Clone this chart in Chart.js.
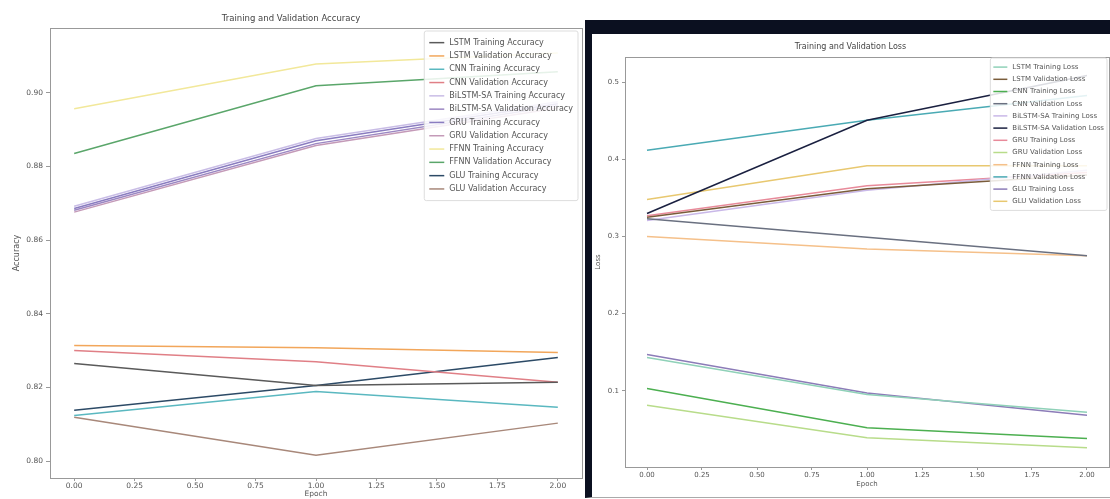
<!DOCTYPE html>
<html>
<head>
<meta charset="utf-8">
<script src="https://cdn.jsdelivr.net/npm/chart.js@4.4.1/dist/chart.umd.min.js"></script>
<style>
  html, body { margin: 0; padding: 0; background: #fff; }
  body { width: 1110px; height: 499px; position: relative; overflow: hidden; }
  #accCanvas { position: absolute; left: 0; top: 0; }
  #lossBox {
    position: absolute; left: 585px; top: 20px; width: 518px; height: 463px;
    border-top: 14px solid #0b1020; border-left: 7px solid #0b1020;
    border-bottom: 1px solid #aaa; background: #fff;
  }
  #lossCanvas { position: absolute; left: 0; top: 0; }
</style>
</head>
<body>
<canvas id="accCanvas" width="585" height="499"></canvas>
<div id="lossBox"><canvas id="lossCanvas" width="518" height="463"></canvas></div>
<script>
// epochs + tick labels
const epochs = [0, 1, 2];
const epochTicks = [0, 0.25, 0.5, 0.75, 1, 1.25, 1.5, 1.75, 2];
const accTicks = [0.80, 0.82, 0.84, 0.86, 0.88, 0.90];
const lossTicks = [0.1, 0.2, 0.3, 0.4, 0.5];

const models = ['LSTM', 'CNN', 'BiLSTM-SA', 'GRU', 'FFNN', 'GLU'];

// accuracy per model
const lstmTrainAcc = [0.8265, 0.8205, 0.8214];
const lstmValAcc = [0.8314, 0.8308, 0.8295];
const cnnTrainAcc = [0.8124, 0.8189, 0.8146];
const cnnValAcc = [0.8300, 0.8270, 0.8214];
const bilstmTrainAcc = [0.8692, 0.8876, 0.8976];
const bilstmValAcc = [0.8681, 0.8862, 0.8965];
const gruTrainAcc = [0.8686, 0.8870, 0.8970];
const gruValAcc = [0.8676, 0.8857, 0.8959];
const ffnnTrainAcc = [0.8957, 0.9078, 0.9108];
const ffnnValAcc = [0.8835, 0.9019, 0.9057];
const gluTrainAcc = [0.8138, 0.8205, 0.8281];
const gluValAcc = [0.8119, 0.8016, 0.8103];

// loss per model
const lstmTrainLoss = [0.143, 0.095, 0.072];
const lstmValLoss = [0.325, 0.362, 0.380];
const cnnTrainLoss = [0.103, 0.052, 0.038];
const cnnValLoss = [0.323, 0.299, 0.275];
const bilstmTrainLoss = [0.321, 0.360, 0.386];
const bilstmValLoss = [0.330, 0.451, 0.509];
const gruTrainLoss = [0.327, 0.366, 0.383];
const gruValLoss = [0.081, 0.039, 0.026];
const ffnnTrainLoss = [0.300, 0.284, 0.275];
const ffnnValLoss = [0.412, 0.451, 0.483];
const gluTrainLoss = [0.147, 0.097, 0.068];
const gluValLoss = [0.348, 0.392, 0.392];

const accSeries = [lstmTrainAcc, lstmValAcc, cnnTrainAcc, cnnValAcc, bilstmTrainAcc, bilstmValAcc,
                   gruTrainAcc, gruValAcc, ffnnTrainAcc, ffnnValAcc, gluTrainAcc, gluValAcc];
const lossSeries = [lstmTrainLoss, lstmValLoss, cnnTrainLoss, cnnValLoss, bilstmTrainLoss, bilstmValLoss,
                    gruTrainLoss, gruValLoss, ffnnTrainLoss, ffnnValLoss, gluTrainLoss, gluValLoss];

const accColors = ['#5a5a5a', '#f2a65a', '#5ab8c0', '#e07f86', '#c9bde6', '#9b86c2',
                   '#8a7cc0', '#c49ab8', '#f2e89a', '#5aa66a', '#2c4a66', '#a8887a'];
const lossColors = ['#8fd1b8', '#7a5c3a', '#4caf50', '#6a7080', '#c9b8e8', '#1a2040',
                    '#e88a9a', '#b8dc8a', '#f5c08a', '#4aaab4', '#8c7cb8', '#e8c870'];

const FONT = '"DejaVu Sans", sans-serif';

function buildSets(series, colors, kind) {
  let sets = [];
  models.forEach(function(m, i) {
    ['Training', 'Validation'].forEach(function(phase, j) {
      const k = i * 2 + j;
      sets.push({
        label: m + ' ' + phase + ' ' + kind,
        data: series[k].map(function(v, n) { return { x: epochs[n], y: v }; }),
        borderColor: colors[k],
        borderWidth: 1.5,
        pointRadius: 0,
        tension: 0,
        fill: false
      });
    });
  });
  return sets;
}

// frame around the plot area (matplotlib spines)
const frame = {
  id: 'frame',
  afterDatasetsDraw(chart) {
    const a = chart.chartArea, ctx = chart.ctx;
    ctx.save();
    ctx.strokeStyle = '#999';
    ctx.lineWidth = 1;
    ctx.strokeRect(Math.round(a.left) + 0.5, Math.round(a.top) + 0.5,
                   Math.round(a.right - a.left), Math.round(a.bottom - a.top));
    ctx.restore();
  }
};

// legend drawn inside the plot, top right
const insideLegend = {
  id: 'insideLegend',
  afterDraw(chart, args, o) {
    const ctx = chart.ctx, a = chart.chartArea;
    const sets = chart.data.datasets;
    ctx.save();
    ctx.font = o.size + 'px ' + FONT;
    const textW = Math.max.apply(null, sets.map(function(d) { return ctx.measureText(d.label).width; }));
    const w = o.pad * 2 + o.lineLen + o.gap + textW;
    const h = o.pad * 2 + sets.length * o.rowH;
    const x0 = a.right - o.marginRight - w;
    const y0 = a.top + o.marginTop;
    ctx.fillStyle = 'rgba(255,255,255,0.85)';
    ctx.strokeStyle = '#ddd';
    ctx.lineWidth = 1;
    ctx.beginPath();
    ctx.roundRect(x0, y0, w, h, 2);
    ctx.fill();
    ctx.stroke();
    ctx.textBaseline = 'middle';
    sets.forEach(function(d, i) {
      const y = y0 + o.pad + o.rowH * (i + 0.5);
      ctx.strokeStyle = d.borderColor;
      ctx.lineWidth = 1.5;
      ctx.beginPath();
      ctx.moveTo(x0 + o.pad, y);
      ctx.lineTo(x0 + o.pad + o.lineLen, y);
      ctx.stroke();
      ctx.fillStyle = '#555';
      ctx.fillText(d.label, x0 + o.pad + o.lineLen + o.gap, y);
    });
    ctx.restore();
  }
};

function tickMarks(len) {
  return { display: true, drawOnChartArea: false, drawTicks: true, tickLength: len, color: '#999' };
}

// accuracy chart
const accChart = new Chart(document.getElementById('accCanvas').getContext('2d'), {
  type: 'line',
  data: { datasets: buildSets(accSeries, accColors, 'Accuracy') },
  options: {
    responsive: false,
    animation: false,
    layout: { padding: { left: 0, right: 3, top: 0, bottom: 0 } },
    plugins: {
      legend: { display: false },
      tooltip: { enabled: false },
      title: {
        display: true, text: 'Training and Validation Accuracy', color: '#444',
        font: { family: FONT, size: 8.5, weight: 'normal' },
        padding: { top: 14, bottom: 3.8 }
      },
      insideLegend: { size: 8, rowH: 13.3, lineLen: 15, gap: 5, pad: 5, marginRight: 4, marginTop: 3 }
    },
    scales: {
      x: {
        type: 'linear', min: -0.1, max: 2.1,
        afterBuildTicks: function(axis) { axis.ticks = epochTicks.map(function(v) { return { value: v }; }); },
        afterFit: function(scale) { scale.height = 21; },
        ticks: { color: '#555', font: { family: FONT, size: 7.5 }, padding: 1, maxRotation: 0,
                 callback: function(v) { return v.toFixed(2); } },
        grid: tickMarks(3),
        border: { display: false },
        title: { display: true, text: 'Epoch', color: '#555', font: { family: FONT, size: 7.5 }, padding: 0 }
      },
      y: {
        type: 'linear', min: 0.7954, max: 0.9176,
        afterBuildTicks: function(axis) { axis.ticks = accTicks.map(function(v) { return { value: v }; }); },
        afterFit: function(scale) { scale.width = 50; },
        ticks: { color: '#555', font: { family: FONT, size: 7.5 }, padding: 3,
                 callback: function(v) { return v.toFixed(2); } },
        grid: tickMarks(4),
        border: { display: false },
        title: { display: true, text: 'Accuracy', color: '#555', font: { family: FONT, size: 8 }, padding: { top: 12, bottom: 0 } }
      }
    }
  },
  plugins: [frame, insideLegend]
});

// loss chart
const lossChart = new Chart(document.getElementById('lossCanvas').getContext('2d'), {
  type: 'line',
  data: { datasets: buildSets(lossSeries, lossColors, 'Loss') },
  options: {
    responsive: false,
    animation: false,
    layout: { padding: { left: 0, right: 1, top: 0, bottom: 6 } },
    plugins: {
      legend: { display: false },
      tooltip: { enabled: false },
      title: {
        display: true, text: 'Training and Validation Loss', color: '#444',
        font: { family: FONT, size: 8, weight: 'normal' },
        padding: { top: 8, bottom: 5.4 }
      },
      insideLegend: { size: 7, rowH: 12.2, lineLen: 14, gap: 5, pad: 3, marginRight: 2, marginTop: 1 }
    },
    scales: {
      x: {
        type: 'linear', min: -0.1, max: 2.1,
        afterBuildTicks: function(axis) { axis.ticks = epochTicks.map(function(v) { return { value: v }; }); },
        afterFit: function(scale) { scale.height = 24; },
        ticks: { color: '#555', font: { family: FONT, size: 7 }, padding: 1, maxRotation: 0,
                 callback: function(v) { return v.toFixed(2); } },
        grid: tickMarks(3),
        border: { display: false },
        title: { display: true, text: 'Epoch', color: '#555', font: { family: FONT, size: 7 }, padding: { top: 0, bottom: 3 } }
      },
      y: {
        type: 'linear', min: 0.001, max: 0.533,
        afterBuildTicks: function(axis) { axis.ticks = lossTicks.map(function(v) { return { value: v }; }); },
        afterFit: function(scale) { scale.width = 33; },
        ticks: { color: '#555', font: { family: FONT, size: 7 }, padding: 3,
                 callback: function(v) { return v.toFixed(1); } },
        grid: tickMarks(3),
        border: { display: false },
        title: { display: true, text: 'Loss', color: '#555', font: { family: FONT, size: 7 }, padding: { top: 2, bottom: 0 } }
      }
    }
  },
  plugins: [frame, insideLegend]
});
</script>
</body>
</html>
